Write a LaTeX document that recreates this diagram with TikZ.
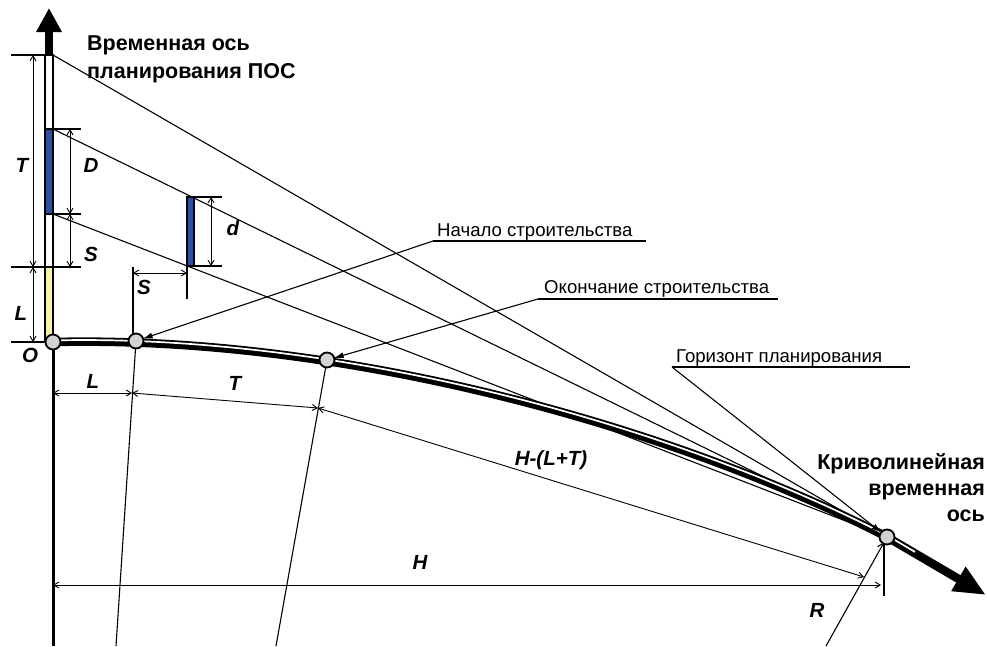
\documentclass[tikz,border=0pt]{standalone}
\usepackage{fontspec}
\setmainfont{Liberation Sans}
\usetikzlibrary{arrows.meta}

\definecolor{barblue}{RGB}{46,78,160}
\definecolor{baryellow}{RGB}{246,242,166}

\tikzset{
    thinline/.style={line width=1.1pt},
    tick/.style={line width=2.6pt},
    dim/.style={line width=0.9pt,{Straight Barb[length=5pt,width=6pt]}-{Straight Barb[length=5pt,width=6pt]}},
    lead/.style={line width=1.1pt,-{Latex[length=10pt,width=6pt]},shorten >=7pt},
    station/.style={circle,draw,line width=1.8pt,fill=gray!35,minimum size=15pt,inner sep=0pt},
    lbl/.style={font=\fontsize{20.5}{24}\selectfont\bfseries\itshape},
    note/.style={font=\fontsize{18.6}{22}\selectfont,inner sep=0pt,anchor=base west},
    title/.style={font=\fontsize{21.5}{28.5}\selectfont\bfseries,inner sep=0pt},
}

\newcommand{\setup}{
    \coordinate (a0) at (49,8);   % axis tip
    \coordinate (a1) at (49,56);
    \coordinate (bot) at (53,646);

    \coordinate (t0) at (53,55);
    \coordinate (d0) at (53,129);
    \coordinate (d1) at (53,214);

    \coordinate (hT) at (11,55);   \coordinate (hTr) at (53,55);
    \coordinate (hD) at (45,129);  \coordinate (hDr) at (81,129);
    \coordinate (hB) at (45,214);  \coordinate (hBr) at (81,214);
    \coordinate (hS) at (11,267);  \coordinate (hSr) at (81,267);
    \coordinate (hO) at (11,342);  \coordinate (hOr) at (46,342);

    \coordinate (vT0) at (33,55);  \coordinate (vT1) at (33,267);
    \coordinate (vL1) at (33,342);
    \coordinate (vD0) at (70,129); \coordinate (vD1) at (70,214);
    \coordinate (vS1) at (70,267);

    \coordinate (e0) at (187,197); \coordinate (e0r) at (222,197);
    \coordinate (e1) at (187,266); \coordinate (e1r) at (222,266);
    \coordinate (e2) at (187,299);
    \coordinate (vd0) at (211,197); \coordinate (vd1) at (211,266);
    \coordinate (q0) at (133,267); \coordinate (q1) at (133,334);
    \coordinate (sq0) at (133,273); \coordinate (sq1) at (187,273);

    \coordinate (o) at (53,342);
    \coordinate (st) at (136,341);
    \coordinate (fin) at (327,360);
    \coordinate (hor) at (887,537);
    \coordinate (c1) at (350,335);
    \coordinate (c2) at (680,430);
    \coordinate (tip) at (986,595);
    \coordinate (tipw) at (915,553.5);

    \coordinate (r1) at (116,646);
    \coordinate (r2) at (276,646);
    \coordinate (r3) at (826,646);

    \coordinate (mL0) at (53,393); \coordinate (mL1) at (132,393);
    \coordinate (mT1) at (318,408); \coordinate (mX1) at (864,577);
    \coordinate (mH0) at (53,585); \coordinate (mH1) at (881,585);
    \coordinate (k0) at (884,545); \coordinate (k1) at (884,596);

    \coordinate (n0) at (433,241); \coordinate (n1) at (646,241);
    \coordinate (f0) at (538,299); \coordinate (f1) at (778,299);
    \coordinate (g0) at (672,367); \coordinate (g1) at (910,367);
}

\begin{document}
\begin{tikzpicture}[x=1pt,y=-1pt]
    \setup;
    \useasboundingbox (0,0) rectangle (987,646);

    % time axis of planning
    \draw[line width=3pt] (o) -- (bot);
    \draw[line width=8pt,-{Triangle[length=24pt,width=24pt]}] (a1) -- (a0);
    \fill[white] (45,55) rectangle (53,342);
    \fill[barblue] (45,129) rectangle (53,214);
    \fill[baryellow] (45,267) rectangle (53,342);
    \draw[line width=1.6pt] (45,55) rectangle (53,342);

    \draw[tick] (hT) -- (hTr);
    \draw[tick] (hD) -- (hDr);
    \draw[tick] (hB) -- (hBr);
    \draw[tick] (hS) -- (hSr);
    \draw[tick] (hO) -- (hOr);

    % small bar
    \filldraw[fill=barblue,line width=1.8pt] (187,197) rectangle (194,266);
    \draw[tick] (e0) -- (e0r);
    \draw[tick] (e1) -- (e1r);
    \draw[line width=2.2pt] (e1) -- (e2);
    \draw[line width=2.2pt] (q0) -- (q1);

    % sight lines
    \draw[thinline] (t0) -- (hor);
    \draw[thinline] (d0) -- (hor);
    \draw[thinline] (d1) -- (hor);

    % radii
    \draw[thinline] (st) -- (r1);
    \draw[thinline] (fin) -- (r2);
    \draw[thinline,-{Straight Barb[length=6pt,width=7pt]},shorten >=6pt] (r3) -- (hor);
    \draw[line width=2.2pt] (k0) -- (k1);

    % curved time axis
    \draw[line width=8.5pt] (o) .. controls (c1) and (c2) .. (hor);
    \draw[white,line width=1.7pt] ([yshift=1.6pt]o) .. controls ([yshift=1.6pt]c1) and ([yshift=1.6pt]c2) .. ([yshift=1.6pt]hor);
    \draw[line width=8.5pt,-{Triangle[length=32pt,width=26pt]}] (hor) -- (tip);
    \draw[white,line width=1.7pt] ([yshift=1.6pt]hor) -- ([yshift=1.6pt]tipw);

    % dimensions
    \draw[dim] (vT0) -- (vT1);
    \draw[dim] (vT1) -- (vL1);
    \draw[dim] (vD0) -- (vD1);
    \draw[dim] (vD1) -- (vS1);
    \draw[dim] (vd0) -- (vd1);
    \draw[dim] (sq0) -- (sq1);
    \draw[dim] (mL0) -- (mL1);
    \draw[dim] (mL1) -- (mT1);
    \draw[dim] (mT1) -- (mX1);
    \draw[dim] (mH0) -- (mH1);

    % leaders
    \draw[line width=2pt] (n0) -- (n1);
    \draw[line width=2pt] (f0) -- (f1);
    \draw[line width=2pt] (g0) -- (g1);
    \draw[lead] (n0) -- (st);
    \draw[lead] (f0) -- (fin);
    \draw[lead] (g0) -- (hor);

    \node[station] (dotO) at (o) {};
    \node[station] (dotS) at (st) {};
    \node[station] (dotF) at (fin) {};
    \node[station] (dotH) at (hor) {};

    \node[title,anchor=base west,align=left] (axname) at (87,78) {Временная ось\\[-1pt]планирования ПОС};
    \node[title,anchor=base east,align=right] (curvename) at (985,521) {Криволинейная\\[-2.5pt]временная\\[-2.5pt]ось};
    \node[note] (nstart) at (437,236) {Начало строительства};
    \node[note] (nend) at (544,293) {Окончание строительства};
    \node[note] (nhor) at (676,362) {Горизонт планирования};

    \node[lbl] (lT) at (22,165) {T};
    \node[lbl] (lD) at (91,165) {D};
    \node[lbl] (lS) at (91,254) {S};
    \node[lbl] (lL) at (21,313) {L};
    \node[lbl] (lO) at (30,355) {O};
    \node[lbl] (ld) at (233,228) {d};
    \node[lbl] (ls) at (144,287) {S};
    \node[lbl] (lL2) at (93,381) {L};
    \node[lbl] (lT2) at (235,383) {T};
    \node[lbl] (lX) at (551,460) {H-(L+T)};
    \node[lbl] (lH) at (420,562) {H};
    \node[lbl] (lR) at (817,610) {R};
\end{tikzpicture}
\end{document}
